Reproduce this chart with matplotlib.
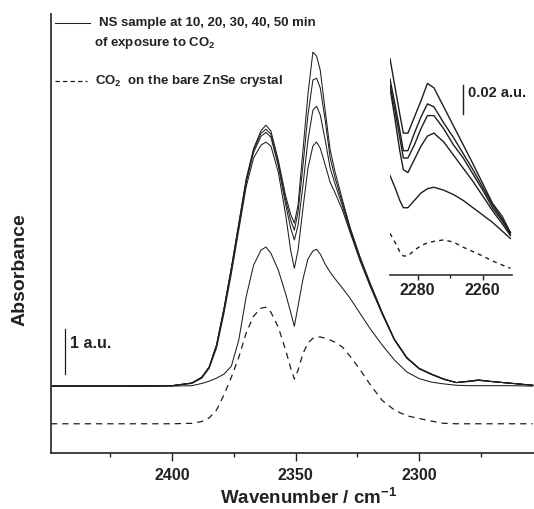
import matplotlib
matplotlib.use("Agg")
import matplotlib.pyplot as plt
from matplotlib.lines import Line2D

plt.rcParams["font.family"] = ["Liberation Sans", "DejaVu Sans"]
plt.rcParams["font.weight"] = "bold"
plt.rcParams["mathtext.fontset"] = "custom"
plt.rcParams["mathtext.rm"] = "Liberation Sans:bold"
plt.rcParams["mathtext.it"] = "Liberation Sans:bold"
plt.rcParams["mathtext.bf"] = "Liberation Sans:bold"
plt.rcParams["mathtext.default"] = "rm"

# Main spectra (absorbance in a.u., baseline offset already applied)
wavenumber = [2449, 2420, 2400, 2392, 2388, 2385, 2382, 2379, 2376, 2373, 2370,
              2367, 2364, 2362, 2360, 2357, 2354, 2352, 2350.5, 2349, 2347, 2345,
              2343, 2341.5, 2340, 2338, 2336, 2334, 2331, 2328, 2324, 2320, 2315,
              2310, 2305, 2300, 2295, 2290, 2285, 2280, 2276, 2270, 2262, 2254]

ns_50min = [0.00, 0.00, 0.01, 0.07, 0.20, 0.43, 0.93, 1.75, 2.67, 3.67, 4.68,
            5.36, 5.77, 5.89, 5.76, 5.10, 4.29, 3.88, 3.68, 4.09, 5.33, 6.59,
            7.54, 7.45, 7.13, 6.21, 5.33, 4.83, 4.20, 3.59, 2.93, 2.35, 1.67,
            1.06, 0.65, 0.40, 0.27, 0.16, 0.08, 0.11, 0.14, 0.10, 0.06, 0.02]
ns_40min = [0.00, 0.00, 0.01, 0.07, 0.20, 0.43, 0.93, 1.74, 2.66, 3.65, 4.64,
            5.33, 5.71, 5.80, 5.69, 5.03, 4.20, 3.75, 3.52, 3.93, 4.99, 6.12,
            6.91, 6.95, 6.73, 6.00, 5.15, 4.70, 4.13, 3.57, 2.91, 2.33, 1.66,
            1.05, 0.64, 0.40, 0.27, 0.16, 0.08, 0.11, 0.14, 0.10, 0.06, 0.02]
ns_30min = [0.00, 0.00, 0.01, 0.07, 0.19, 0.42, 0.91, 1.72, 2.64, 3.62, 4.60,
            5.28, 5.64, 5.73, 5.62, 4.97, 4.09, 3.57, 3.30, 3.63, 4.54, 5.55,
            6.23, 6.32, 6.12, 5.55, 4.92, 4.56, 4.06, 3.52, 2.89, 2.30, 1.65,
            1.05, 0.64, 0.40, 0.27, 0.16, 0.08, 0.11, 0.13, 0.10, 0.06, 0.02]
ns_20min = [0.00, 0.00, 0.01, 0.06, 0.18, 0.40, 0.86, 1.64, 2.54, 3.52, 4.50,
            5.15, 5.44, 5.51, 5.42, 4.83, 3.86, 3.07, 2.66, 3.07, 4.02, 4.92,
            5.42, 5.51, 5.37, 4.99, 4.60, 4.36, 3.97, 3.48, 2.84, 2.28, 1.63,
            1.04, 0.63, 0.39, 0.26, 0.15, 0.08, 0.10, 0.13, 0.10, 0.06, 0.02]
ns_10min = [0.00, 0.00, 0.00, 0.01, 0.06, 0.11, 0.18, 0.27, 0.45, 1.04, 2.02,
            2.73, 3.07, 3.14, 3.00, 2.62, 2.08, 1.67, 1.35, 1.81, 2.42, 2.87,
            3.05, 3.09, 2.98, 2.75, 2.57, 2.42, 2.21, 1.99, 1.65, 1.31, 0.93,
            0.59, 0.32, 0.17, 0.09, 0.05, 0.02, 0.01, 0.01, 0.01, 0.01, 0.00]
bare_znse = [-0.85, -0.85, -0.85, -0.84, -0.80, -0.72, -0.54, -0.20, 0.20, 0.65, 1.20,
             1.58, 1.76, 1.78, 1.67, 1.33, 0.81, 0.41, 0.16, 0.36, 0.74, 0.97,
             1.08, 1.11, 1.11, 1.08, 1.04, 0.99, 0.88, 0.68, 0.38, 0.05, -0.32,
             -0.54, -0.67, -0.73, -0.79, -0.84, -0.85, -0.85, -0.85, -0.85, -0.85, -0.85]

# Inset: zoom on the 2290-2250 cm-1 region
inset_wavenumber = [2288.5, 2287, 2285.5, 2284.4, 2283, 2281, 2279, 2277, 2275,
                    2272, 2269, 2266, 2263, 2260, 2257, 2254, 2251.5]
inset_50min = [0.148, 0.129, 0.110, 0.097, 0.097, 0.108, 0.119, 0.131, 0.128,
               0.115, 0.102, 0.089, 0.076, 0.0625, 0.049, 0.040, 0.029]
inset_40min = [0.134, 0.117, 0.099, 0.085, 0.085, 0.097, 0.108, 0.117, 0.115,
               0.104, 0.094, 0.083, 0.072, 0.060, 0.048, 0.038, 0.029]
inset_30min = [0.130, 0.113, 0.094, 0.080, 0.080, 0.089, 0.100, 0.109, 0.109,
               0.100, 0.089, 0.080, 0.069, 0.058, 0.046, 0.037, 0.028]
inset_20min = [0.128, 0.107, 0.085, 0.072, 0.070, 0.079, 0.088, 0.095, 0.097,
               0.091, 0.082, 0.073, 0.064, 0.054, 0.044, 0.035, 0.027]
inset_10min = [0.068, 0.060, 0.051, 0.046, 0.046, 0.051, 0.056, 0.059, 0.060,
               0.058, 0.055, 0.051, 0.046, 0.041, 0.036, 0.030, 0.025]
inset_bare = [0.0285, 0.0225, 0.016, 0.013, 0.013, 0.017, 0.020, 0.022, 0.023,
              0.024, 0.0225, 0.019, 0.016, 0.013, 0.0096, 0.0068, 0.0046]

LINE = "#1e1e1e"
TEXT = "#222222"
W, H = 534, 509


def fx(px):
    return px / W


def fy(py):
    return 1 - py / H


fig = plt.figure(figsize=(5.34, 5.09), dpi=100)
ax = fig.add_axes([fx(51), fy(453), fx(534) - fx(51), fy(13.6) - fy(453)])

for series in (ns_10min, ns_20min, ns_30min, ns_40min, ns_50min):
    ax.plot(wavenumber, series, color=LINE, lw=0.75)
ax.plot(wavenumber, bare_znse, color=LINE, lw=0.9, linestyle=(0, (5, 4)))

ax.set_xlim(2449, 2253.5)
ax.set_ylim(-1.51, 8.41)
ax.set_xticks([2400, 2350, 2300])
ax.set_xticks([2425, 2375, 2325, 2275], minor=True)
ax.set_yticks([])
for side in ("top", "right"):
    ax.spines[side].set_visible(False)
for side in ("left", "bottom"):
    ax.spines[side].set_color("#333333")
    ax.spines[side].set_linewidth(1.3)
ax.tick_params(axis="x", which="major", direction="out", length=5.5, width=1.0,
               labelsize=11.5, pad=5.5, colors=TEXT)
ax.tick_params(axis="x", which="minor", direction="out", length=3, width=1.0,
               colors=TEXT)

ax.set_xlabel("Wavenumber / cm$^{-1}$", fontsize=13.5, fontweight="bold",
              va="center", color=TEXT)
ax.xaxis.set_label_coords((309 - 51) / 483, (453 - 498) / 439.4)
ax.set_ylabel("Absorbance", fontsize=14, fontweight="bold", va="center",
              color=TEXT)
ax.yaxis.set_label_coords((20 - 51) / 483, (453 - 270) / 439.4)

# 1 a.u. scale bar
ax.plot([2443.2, 2443.2], [0.28, 1.28], color=LINE, lw=0.9)
ax.text(2441.5, 0.96, "1 a.u.", fontsize=11.5, fontweight="bold",
        va="center", ha="left", color=TEXT)

# Legend drawn by hand to match the two-line first entry
fig.add_artist(Line2D([fx(54.5), fx(90.3)], [fy(23.2), fy(23.2)],
                      color=LINE, lw=0.75))
fig.text(fx(98.8), fy(23), "NS sample at 10, 20, 30, 40, 50 min",
         fontsize=9.5, fontweight="bold", va="center", ha="left", color=TEXT)
fig.text(fx(93.7), fy(42.6), "of exposure to CO$_2$",
         fontsize=9.5, fontweight="bold", va="center", ha="left", color=TEXT)
fig.add_artist(Line2D([fx(54.5), fx(86.9)], [fy(81), fy(81)],
                      color=LINE, lw=0.9, linestyle=(0, (3.5, 2.5))))
fig.text(fx(94.7), fy(81), "CO$_2$  on the bare ZnSe crystal",
         fontsize=9.5, fontweight="bold", va="center", ha="left", color=TEXT)

# Inset
ins = fig.add_axes([fx(390), fy(275), fx(511.7) - fx(390), fy(41) - fy(275)])
ins.patch.set_alpha(0)
for series in (inset_10min, inset_20min, inset_30min, inset_40min, inset_50min):
    ins.plot(inset_wavenumber, series, color=LINE, lw=1.0)
ins.plot(inset_wavenumber, inset_bare, color=LINE, lw=1.0, linestyle=(0, (3, 3)))
ins.set_xlim(2288.5, 2251.1)
ins.set_ylim(0, 0.16)
ins.set_xticks([2280, 2260])
ins.set_xticks([2270], minor=True)
ins.set_yticks([])
for side in ("top", "right", "left"):
    ins.spines[side].set_visible(False)
ins.spines["bottom"].set_color("#333333")
ins.spines["bottom"].set_linewidth(1.2)
ins.tick_params(axis="x", which="major", direction="out", length=3.5, width=1.0,
                labelsize=11.5, pad=2, colors=TEXT)
ins.tick_params(axis="x", which="minor", direction="out", length=2, width=1.0,
                colors=TEXT)

ins.plot([2266.2, 2266.2], [0.1098, 0.1298], color=LINE, lw=1.0)
ins.text(2264.4, 0.1245, "0.02 a.u.", fontsize=10.5, fontweight="bold",
         va="center", ha="left", color=TEXT)

fig.savefig("out.png", dpi=100)
